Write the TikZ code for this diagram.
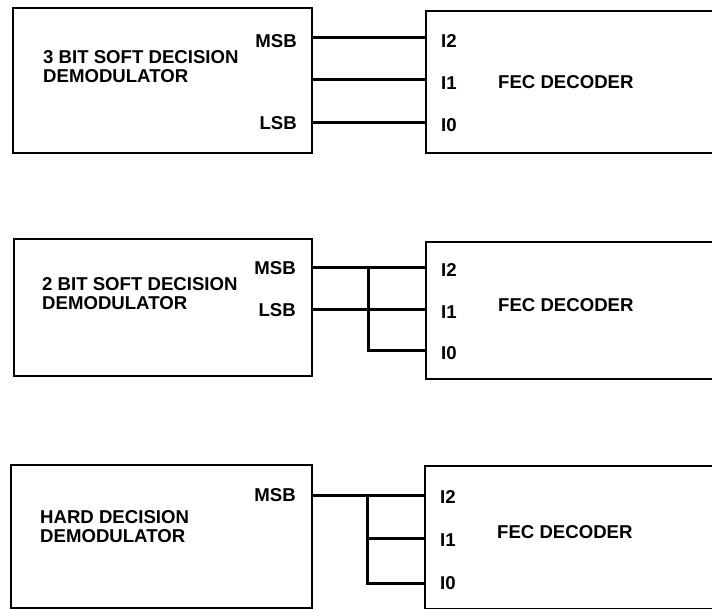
\documentclass[tikz,border=0pt]{standalone}
\usepackage{fontspec}
\setmainfont{Liberation Sans}
\tikzset{
	blk/.style={draw, line width=2.3pt, anchor=north west, inner sep=0pt},
	wire/.style={line width=3pt},
	lbl/.style={font=\bfseries\fontsize{18.6}{19}\selectfont, inner sep=0pt},
}
\begin{document}
\begin{tikzpicture}[x=1pt, y=-1pt]
	\useasboundingbox (0,0) rectangle (712,609);
	\clip (0,0) rectangle (712,609);
	% 3 bit soft decision
	\node[blk, minimum width=299pt, minimum height=145pt] (dem1) at (12,7) {};
	\node[blk, minimum width=320pt, minimum height=142pt] (fec1) at (425,10) {};
	\node[lbl, anchor=west, align=left] (txt1) at (43,67) {3 BIT SOFT DECISION\\DEMODULATOR};
	\node[lbl, anchor=west] (dec1) at (498,82) {FEC DECODER};
	\node[lbl, anchor=east] (msb1) at (297,41) {MSB};
	\node[lbl, anchor=east] (lsb1) at (297,123) {LSB};
	\node[lbl, anchor=west] (in2a) at (441,41) {I2};
	\node[lbl, anchor=west] (in1a) at (441,83) {I1};
	\node[lbl, anchor=west] (in0a) at (441,125) {I0};
	\coordinate (o2a) at (dem1.east |- 0,38);
	\coordinate (o1a) at (dem1.east |- 0,80);
	\coordinate (o0a) at (dem1.east |- 0,123);
	\draw[wire] (o2a) -- (fec1.west |- o2a);
	\draw[wire] (o1a) -- (fec1.west |- o1a);
	\draw[wire] (o0a) -- (fec1.west |- o0a);
	% 2 bit soft decision
	\node[blk, minimum width=298pt, minimum height=137pt] (dem2) at (13,238) {};
	\node[blk, minimum width=320pt, minimum height=137pt] (fec2) at (425,241) {};
	\node[lbl, anchor=west, align=left] (txt2) at (42,294) {2 BIT SOFT DECISION\\DEMODULATOR};
	\node[lbl, anchor=west] (dec2) at (498,305) {FEC DECODER};
	\node[lbl, anchor=east] (msb2) at (296,268) {MSB};
	\node[lbl, anchor=east] (lsb2) at (296,310) {LSB};
	\node[lbl, anchor=west] (in2b) at (441,270) {I2};
	\node[lbl, anchor=west] (in1b) at (441,312) {I1};
	\node[lbl, anchor=west] (in0b) at (441,353) {I0};
	\coordinate (o2b) at (dem2.east |- 0,268);
	\coordinate (o1b) at (dem2.east |- 0,310);
	\coordinate (j2) at (368,268);
	\coordinate (j0) at (368,351);
	\draw[wire] (o2b) -- (fec2.west |- o2b);
	\draw[wire] (o1b) -- (fec2.west |- o1b);
	\draw[wire] (j2) -- (j0) -- (fec2.west |- j0);
	% hard decision
	\node[blk, minimum width=301pt, minimum height=143pt] (dem3) at (10,464) {};
	\node[blk, minimum width=320pt, minimum height=143pt] (fec3) at (424,465) {};
	\node[lbl, anchor=west, align=left] (txt3) at (40,527) {HARD DECISION\\DEMODULATOR};
	\node[lbl, anchor=west] (dec3) at (497,532) {FEC DECODER};
	\node[lbl, anchor=east] (msb3) at (296,495) {MSB};
	\node[lbl, anchor=west] (in2c) at (440,497) {I2};
	\node[lbl, anchor=west] (in1c) at (440,540) {I1};
	\node[lbl, anchor=west] (in0c) at (440,583) {I0};
	\coordinate (o2c) at (dem3.east |- 0,495);
	\coordinate (k2) at (367,495);
	\coordinate (k0) at (367,583);
	\draw[wire] (o2c) -- (fec3.west |- o2c);
	\draw[wire] (k2) -- (k0) -- (fec3.west |- k0);
	\draw[wire] (k2 |- 0,538) -- (fec3.west |- 0,538);
\end{tikzpicture}
\end{document}
